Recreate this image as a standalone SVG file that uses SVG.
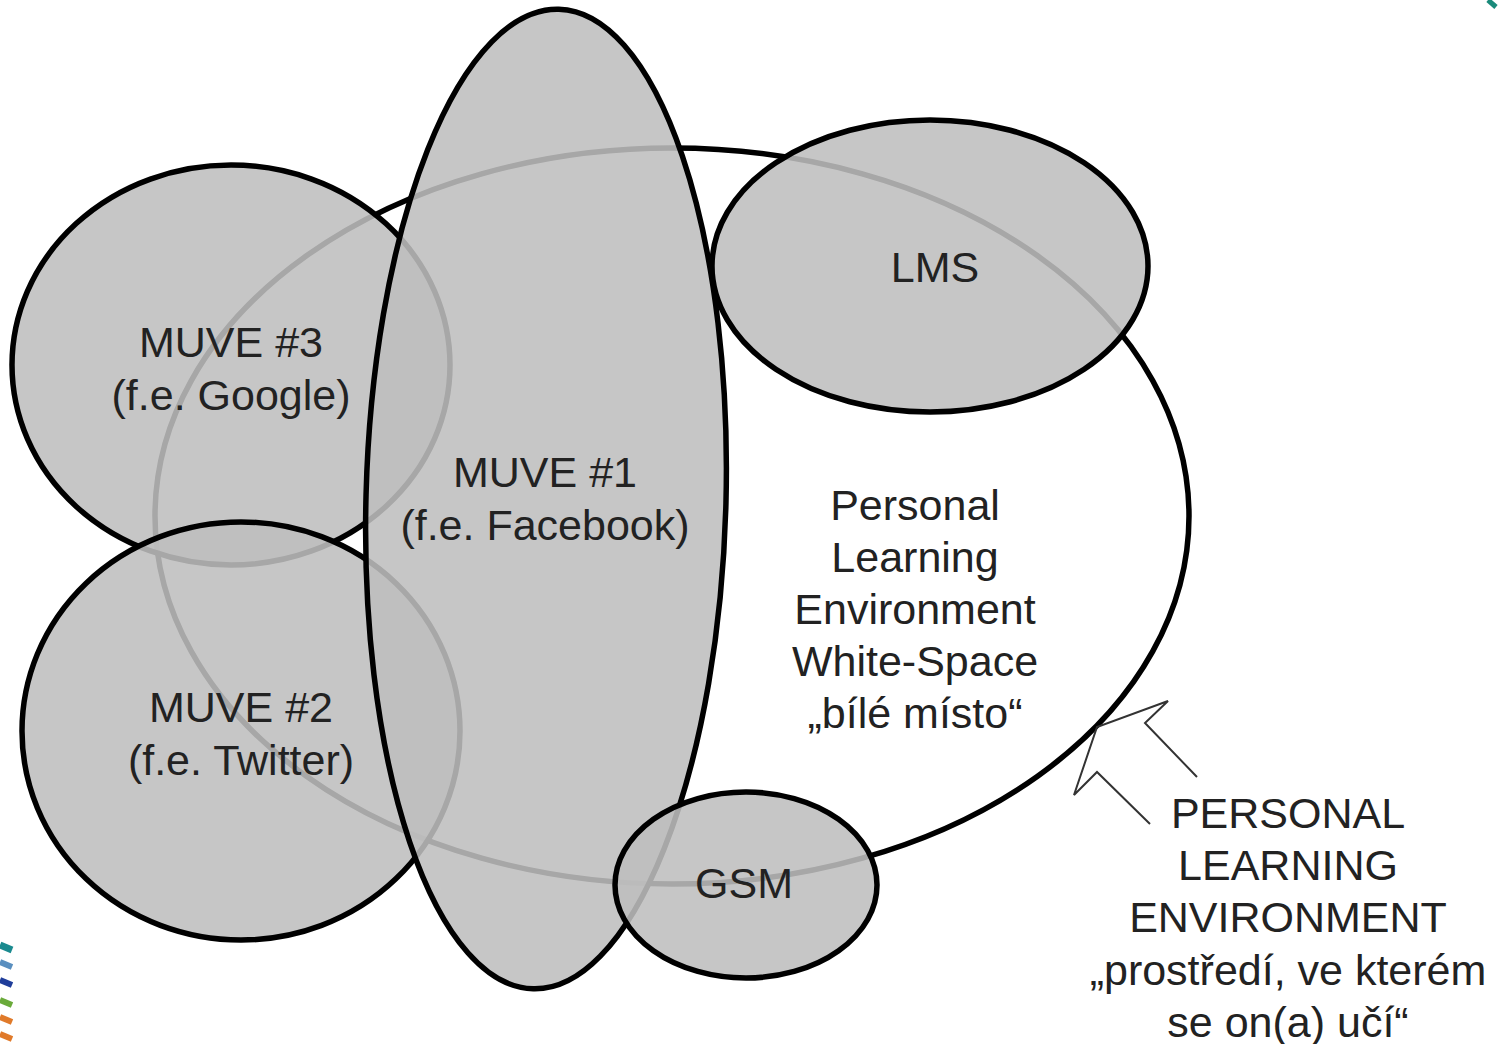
<svg xmlns="http://www.w3.org/2000/svg" width="1500" height="1044" viewBox="0 0 1500 1044">
<style>
.shape{fill:#bebebe;fill-opacity:0.88;stroke:#000;stroke-width:5.5}
.ple{fill:#fff;stroke:#000;stroke-width:5.5}
.t{font-family:"Liberation Sans",Arial,sans-serif;font-size:43px;fill:#222;text-anchor:middle}
.arrow{fill:none;stroke:#333;stroke-width:2;stroke-linejoin:miter}
</style>
<rect width="1500" height="1044" fill="#fff"/>
<g id="decor">
<path d="M0,945 L12,950" stroke="#1a8a8f" stroke-width="7"/>
<path d="M0,962 L12,967" stroke="#5a8fbf" stroke-width="6"/>
<path d="M0,980 L12,985" stroke="#1f3d9a" stroke-width="6"/>
<path d="M0,1000 L12,1005" stroke="#6aaa3a" stroke-width="6"/>
<path d="M0,1017 L12,1022" stroke="#e07a2a" stroke-width="6"/>
<path d="M0,1034 L12,1039" stroke="#e07a2a" stroke-width="6"/>
<path d="M1488,0 L1496,7" stroke="#1a8a7a" stroke-width="5"/>
</g>
<g id="ple">
<ellipse class="ple" cx="672" cy="516" rx="517" ry="368"/>
</g>
<g id="muve3">
<ellipse class="shape" cx="231" cy="365" rx="219" ry="200"/>
</g>
<g id="muve2">
<ellipse class="shape" cx="241" cy="731" rx="219" ry="209"/>
</g>
<g id="lms">
<ellipse class="shape" cx="930" cy="266" rx="218" ry="146"/>
</g>
<g id="muve1">
<ellipse class="shape" cx="0" cy="0" rx="180" ry="490" transform="translate(546,499) rotate(1.5)"/>
</g>
<g id="gsm">
<ellipse class="shape" cx="746" cy="885" rx="131" ry="93"/>
</g>
<g id="connectors">
<polyline class="arrow" points="1197,777 1145,723 1168,701 1097,727 1074,795 1097,772 1150,824"/>
</g>
<g id="labels">
<text class="t" x="935" y="282">LMS</text>
<text class="t" x="231" y="357">MUVE #3</text>
<text class="t" x="231" y="410">(f.e. Google)</text>
<text class="t" x="545" y="487">MUVE #1</text>
<text class="t" x="545" y="540">(f.e. Facebook)</text>
<text class="t" x="241" y="722">MUVE #2</text>
<text class="t" x="241" y="775">(f.e. Twitter)</text>
<text class="t" x="915" y="520">Personal</text>
<text class="t" x="915" y="572">Learning</text>
<text class="t" x="915" y="624">Environment</text>
<text class="t" x="915" y="676">White-Space</text>
<text class="t" x="915" y="728">„bílé místo“</text>
<text class="t" x="744" y="898">GSM</text>
<text class="t" x="1288" y="828">PERSONAL</text>
<text class="t" x="1288" y="880">LEARNING</text>
<text class="t" x="1288" y="932">ENVIRONMENT</text>
<text class="t" x="1288" y="985">„prostředí, ve kterém</text>
<text class="t" x="1288" y="1037">se on(a) učí“</text>
</g>
</svg>
